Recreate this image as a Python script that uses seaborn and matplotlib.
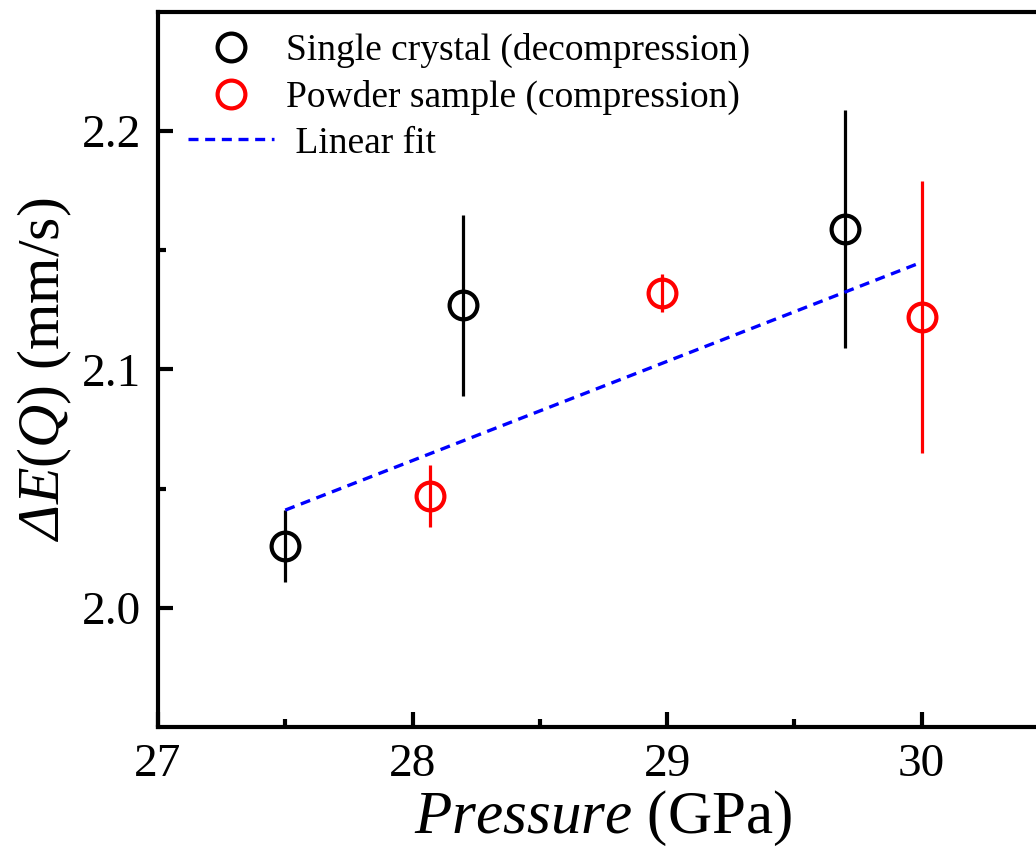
import pandas as pd
import matplotlib
matplotlib.use("Agg")
import matplotlib.pyplot as plt
import seaborn as sns

# single crystal, decompression
sc_p = [27.5, 28.2, 29.7]
sc_q = [2.026, 2.127, 2.159]
sc_err = [0.015, 0.038, 0.050]

# powder sample, compression
pw_p = [28.07, 28.98, 30.0]
pw_q = [2.047, 2.132, 2.122]
pw_err = [0.013, 0.008, 0.057]

# linear fit end points
fit_p = [27.5, 30.0]
fit_q = [2.041, 2.145]

sns.set_theme(style="ticks")
plt.rcParams['font.family'] = ['Liberation Serif', 'DejaVu Serif']
plt.rcParams['text.color'] = 'black'
plt.rcParams['axes.labelcolor'] = 'black'
plt.rcParams['xtick.color'] = 'black'
plt.rcParams['ytick.color'] = 'black'
plt.rcParams['axes.edgecolor'] = 'black'
# italic for the math parts (rm is used so that the Greek capital is slanted too)
plt.rcParams['mathtext.fontset'] = 'custom'
plt.rcParams['mathtext.rm'] = 'Liberation Serif:italic'
plt.rcParams['mathtext.it'] = 'Liberation Serif:italic'

fig = plt.figure(figsize=(10.36, 8.51), dpi=100)
ax = fig.add_axes([0.1525, 0.1457, 0.86, 0.8403])

ax.errorbar(sc_p, sc_q, yerr=sc_err, fmt='none', ecolor='black', elinewidth=2.3, capsize=0)
ax.errorbar(pw_p, pw_q, yerr=pw_err, fmt='none', ecolor='red', elinewidth=2.3, capsize=0)
ax.plot(sc_p, sc_q, 'o', ms=20, mfc='none', mec='black', mew=3,
        label='Single crystal (decompression)')
ax.plot(pw_p, pw_q, 'o', ms=20, mfc='none', mec='red', mew=3,
        label='Powder sample (compression)')

fit_df = pd.DataFrame({'p': fit_p, 'q': fit_q})
sns.lineplot(data=fit_df, x='p', y='q', ax=ax, color='blue', lw=2.4,
             linestyle=(0, (3, 2)), label=' Linear fit')

ax.set_xlim(27, 30.5)
ax.set_ylim(1.95, 2.25)
ax.set_xticks([27, 28, 29, 30])
ax.set_xticks([27.5, 28.5, 29.5], minor=True)
ax.set_yticks([2.0, 2.1, 2.2])
ax.set_yticks([2.05, 2.15], minor=True)
ax.set_yticklabels(['2.0', '2.1', '2.2'])

for s in ax.spines.values():
    s.set_linewidth(3)
ax.tick_params(which='major', direction='in', length=11, width=3, labelsize=34, pad=12)
ax.tick_params(which='minor', direction='in', length=6, width=3)

ax.set_xlabel(r'$\mathrm{Pressure}$ (GPa)', fontsize=44, labelpad=2)
ax.set_ylabel(r'$\mathrm{ΔE}$($\mathrm{Q}$) (mm/s)', fontsize=43, labelpad=6)

ax.legend(loc='upper left', bbox_to_anchor=(0.0337, 0.97), frameon=False,
          fontsize=27, handlelength=2.3, handletextpad=0.3, labelspacing=0.3,
          borderpad=0, borderaxespad=0)

fig.savefig('out.png', dpi=100)
